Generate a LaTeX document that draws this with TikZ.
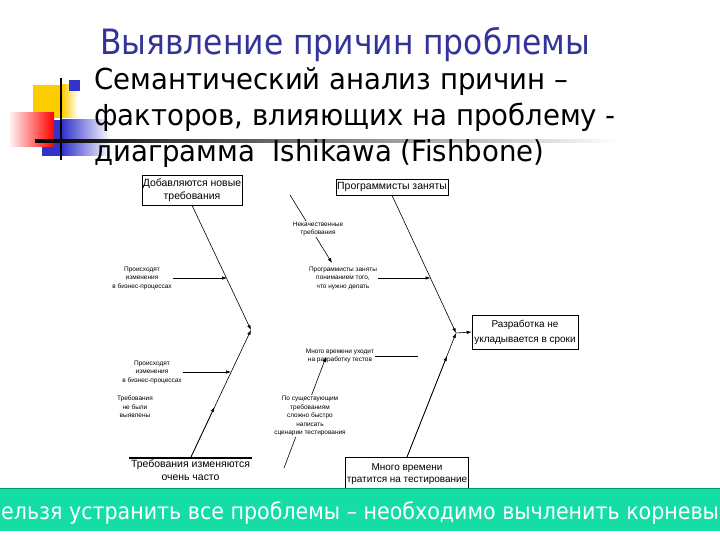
\documentclass[tikz,border=0pt]{standalone}
\usepackage{fontspec}
\setmainfont{Liberation Sans}
\newfontfamily\slidefont{DejaVu Sans Condensed}
\newfontfamily\bulletfont{DejaVu Sans Condensed}[FakeStretch=1.06]
\usetikzlibrary{arrows.meta,positioning}
\definecolor{titleblue}{RGB}{51,51,153}
\definecolor{bulletblue}{RGB}{51,51,204}
\definecolor{logoyellow}{RGB}{255,204,0}
\definecolor{bannergreen}{RGB}{20,222,166}
\definecolor{bannerline}{RGB}{0,150,110}
\begin{document}
\begin{tikzpicture}[x=1bp, y=-1bp,
    bone/.style={-{Latex[length=5bp,width=3.5bp]}, line width=0.6bp},
    plain/.style={line width=0.6bp},
    box/.style={draw, line width=0.6bp, fill=white, inner sep=1bp, align=center,
        font=\fontsize{10.5}{13}\selectfont},
    note/.style={align=center, inner sep=1bp, font=\fontsize{6.5}{8.5}\selectfont},
    slide/.style={anchor=base west, inner sep=0pt, font=\bulletfont\fontsize{29}{36}\selectfont}
]
    \useasboundingbox (0,0) rectangle (720,540);

    % logo
    \fill[logoyellow] (33,85) rectangle (62,118);
    \shade[left color=logoyellow, right color=white] (62,85) rectangle (78,118);
    \fill[bulletblue] (42,120) rectangle (62,156);
    \shade[left color=bulletblue, right color=white] (62,120) rectangle (110,156);
    \shade[left color=red!5, right color=red] (10,113) rectangle (54,147);
    \draw[line width=2bp] (61,78) -- (61,160);
    \shade[left color=black, middle color=black!45, right color=white] (35,139.8) rectangle (620,142.2);
    \fill[bulletblue] (69,80) rectangle (80,91);

    % title and bullet
    \node[anchor=base west, inner sep=0pt, text=titleblue,
        font=\slidefont\fontsize{35}{40}\selectfont] (title) at (100,55) {Выявление причин проблемы};
    \node[slide] (line1) at (94,90) {Семантический анализ причин –};
    \node[slide] (line2) at (94,126) {факторов, влияющих на проблему -};
    \node[slide] (line3) at (94,162) {диаграмма\ \ Ishikawa (Fishbone)};

    % heads of the bones
    \node[box, minimum width=98bp, minimum height=30bp] (added) at (192,190) {Добавляются новые\\требования};
    \node[box, minimum width=108bp, minimum height=16bp] (busy) at (392,187) {Программисты заняты};
    \node[box, minimum width=106bp, minimum height=34bp, font=\fontsize{10}{15}\selectfont] (late) at (525,332) {Разработка не\\укладывается в сроки};
    \node[box, anchor=north, minimum width=122bp, minimum height=34bp, font=\fontsize{10}{12.5}\selectfont] (testing) at (407,457) {Много времени\\тратится на тестирование};
    \node[align=center, anchor=north, minimum width=115bp, inner sep=2bp,
        font=\fontsize{10.5}{12.5}\selectfont] (often) at (190.5,458) {Требования изменяются\\очень часто};
    \draw[line width=2bp] (often.north west) -- (often.north east);

    % bones
    \coordinate (jl) at (251,330);
    \coordinate (jr) at (456,333);
    \draw[bone] (added.south) -- (jl);
    \draw[bone] (often.north) -- (jl);
    \draw[bone] (busy.south) -- (jr);
    \draw[bone] (testing.north) -- (jr);
    \draw[bone] (jr) -- (late.west);

    % causes
    \coordinate (p1) at (227,278);
    \coordinate (p2) at (430.5,278);
    \coordinate (p3) at (231,372);
    \coordinate (p4) at (214.5,407);
    \coordinate (p5) at (447,356);
    \coordinate (t1) at (418,356);
    \coordinate (v0) at (290,195);
    \coordinate (v1) at (332,263);
    \coordinate (s0) at (284,468);
    \coordinate (s1) at (326,357);

    \draw[bone] (v0) -- (v1);
    \draw[bone] (s0) -- (s1);

    \node[note] (change1) at (142,278) {Происходят\\изменения\\в бизнес-процессах};
    \node[note, fill=white] (vague) at (318,229) {Некачественные\\требования};
    \node[note] (understand) at (343,278) {Программисты заняты\\пониманием того,\\что нужно делать};
    \node[note] (change2) at (152,372) {Происходят\\изменения\\в бизнес-процессах};
    \node[note] (missed) at (135,407) {Требования\\не были\\выявлены};
    \node[note] (tests) at (340,356) {Много времени уходит\\на разработку тестов};
    \node[note, fill=white] (scripts) at (310,416) {По существующим\\требованиям\\сложно быстро\\написать\\сценарии тестирования};

    \draw[bone] (change1.east) -- (p1);
    \draw[bone] (understand.east) -- (p2);
    \draw[bone] (change2.east) -- (p3);
    \draw[bone] (often.north) -- (p4);
    \draw[plain] (tests.east) -- (t1);
    \draw[bone] (testing.north) -- (p5);

    % banner
    \begin{scope}
        \clip (0,488) rectangle (720,531);
        \fill[bannergreen] (0,488) rectangle (720,531);
        \draw[bannerline, line width=1.5bp] (0,488.7) -- (720,488.7);
        \node[anchor=base west, inner sep=0pt, text=white,
            font=\slidefont\fontsize{23}{26}\selectfont] (banner) at (1,519)
            {\llap{Н}ельзя устранить все проблемы – необходимо вычленить корневые};
    \end{scope}
\end{tikzpicture}
\end{document}
